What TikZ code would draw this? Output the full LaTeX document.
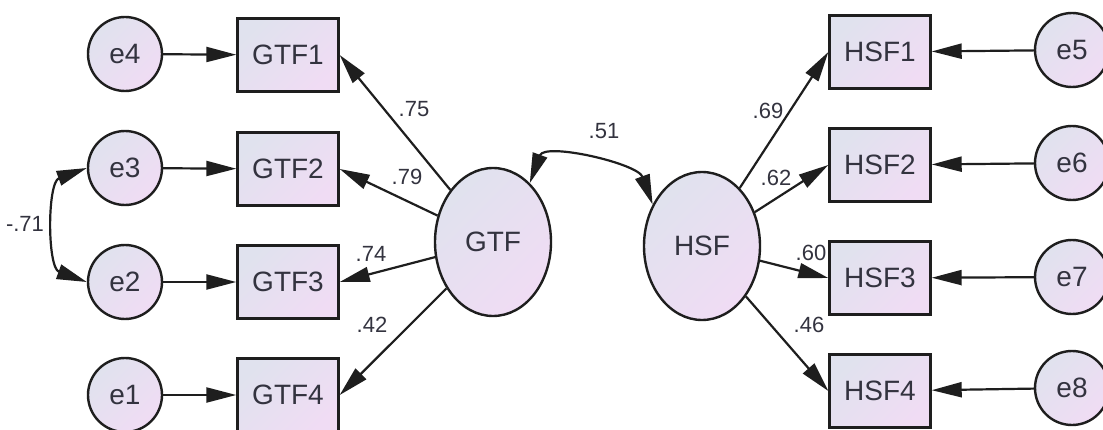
\documentclass[tikz,border=0pt]{standalone}
\usepackage{fontspec}
\setmainfont{Liberation Sans}
\usetikzlibrary{arrows.meta, shapes.geometric}
\definecolor{fillgray}{HTML}{E0E2EE}
\definecolor{fillpink}{HTML}{F0DCF4}
\definecolor{inkgray}{HTML}{33333F}
\definecolor{linegray}{HTML}{1E1E1E}

\begin{document}
\begin{tikzpicture}[x=1pt, y=1pt,
    shaded/.style = {draw=linegray, line width=2.4pt, top color=fillgray, bottom color=fillpink,
      shading angle=45, text=inkgray, font=\fontsize{28}{30}\selectfont},
    item/.style = {shaded, rectangle, minimum width=101pt, minimum height=73pt},
    err/.style = {shaded, circle, minimum size=74pt, inner sep=0pt},
    latent/.style = {shaded, ellipse, minimum width=116pt, minimum height=148pt},
    load/.style = {draw=linegray, line width=2.2pt, -{Triangle[length=30pt, width=15pt]}},
    cov/.style = {draw=linegray, line width=2.2pt,
      {Triangle[length=30pt, width=15pt]}-{Triangle[length=30pt, width=15pt]}},
    coef/.style = {text=inkgray, font=\fontsize{22}{24}\selectfont}
  ]
    \fill [white] (0, 0) rectangle (1103, 429);
    \useasboundingbox (0, 0) rectangle (1103, 429);

    % left block
    \node [err] (e4) at (125, 375) {e4};
    \node [err] (e3) at (125, 261) {e3};
    \node [err] (e2) at (125, 147) {e2};
    \node [err] (e1) at (125, 34) {e1};
    \node [item] (GTF1) at (288, 374) {GTF1};
    \node [item] (GTF2) at (288, 260) {GTF2};
    \node [item] (GTF3) at (288, 147) {GTF3};
    \node [item] (GTF4) at (288, 34) {GTF4};
    \node [latent] (GTF) at (493, 187) {GTF};

    % right block
    \node [latent] (HSF) at (702, 183) {HSF};
    \node [item] (HSF1) at (880, 377) {HSF1};
    \node [item] (HSF2) at (880, 264) {HSF2};
    \node [item] (HSF3) at (880, 151) {HSF3};
    \node [item] (HSF4) at (880, 38) {HSF4};
    \node [err] (e5) at (1072, 379) {e5};
    \node [err] (e6) at (1072, 266) {e6};
    \node [err] (e7) at (1072, 152) {e7};
    \node [err] (e8) at (1072, 41) {e8};

    \draw [load] (e4) -- (GTF1);
    \draw [load] (e3) -- (GTF2);
    \draw [load] (e2) -- (GTF3);
    \draw [load] (e1) -- (GTF4);
    \draw [load] (GTF) -- (GTF1.east);
    \draw [load] (GTF) -- (GTF2.east);
    \draw [load] (GTF) -- (GTF3.east);
    \draw [load] (GTF) -- (GTF4.east);

    \draw [load] (e5) -- (HSF1);
    \draw [load] (e6) -- (HSF2);
    \draw [load] (e7) -- (HSF3);
    \draw [load] (e8) -- (HSF4);
    \draw [load] (HSF) -- (HSF1.west);
    \draw [load] (HSF) -- (HSF2.west);
    \draw [load] (HSF) -- (HSF3.west);
    \draw [load] (HSF) -- (HSF4.west);

    \draw [cov] (e3.west) to [out=200, in=160, looseness=0.95] (e2.west);
    \draw [cov] (GTF.58) to [out=70, in=110, looseness=0.9] (HSF.140);

    % coefficients
    \node [coef] (c71) at (25, 205) {-.71};
    \node [coef] (c51) at (604, 298) {.51};
    \node [coef] (c75) at (414, 320) {.75};
    \node [coef] (c79) at (407, 252) {.79};
    \node [coef] (c74) at (371, 175) {.74};
    \node [coef] (c42) at (372, 104) {.42};
    \node [coef] (c69) at (768, 318) {.69};
    \node [coef] (c62) at (776, 251) {.62};
    \node [coef] (c60) at (811, 176) {.60};
    \node [coef] (c46) at (809, 104) {.46};
\end{tikzpicture}
\end{document}
